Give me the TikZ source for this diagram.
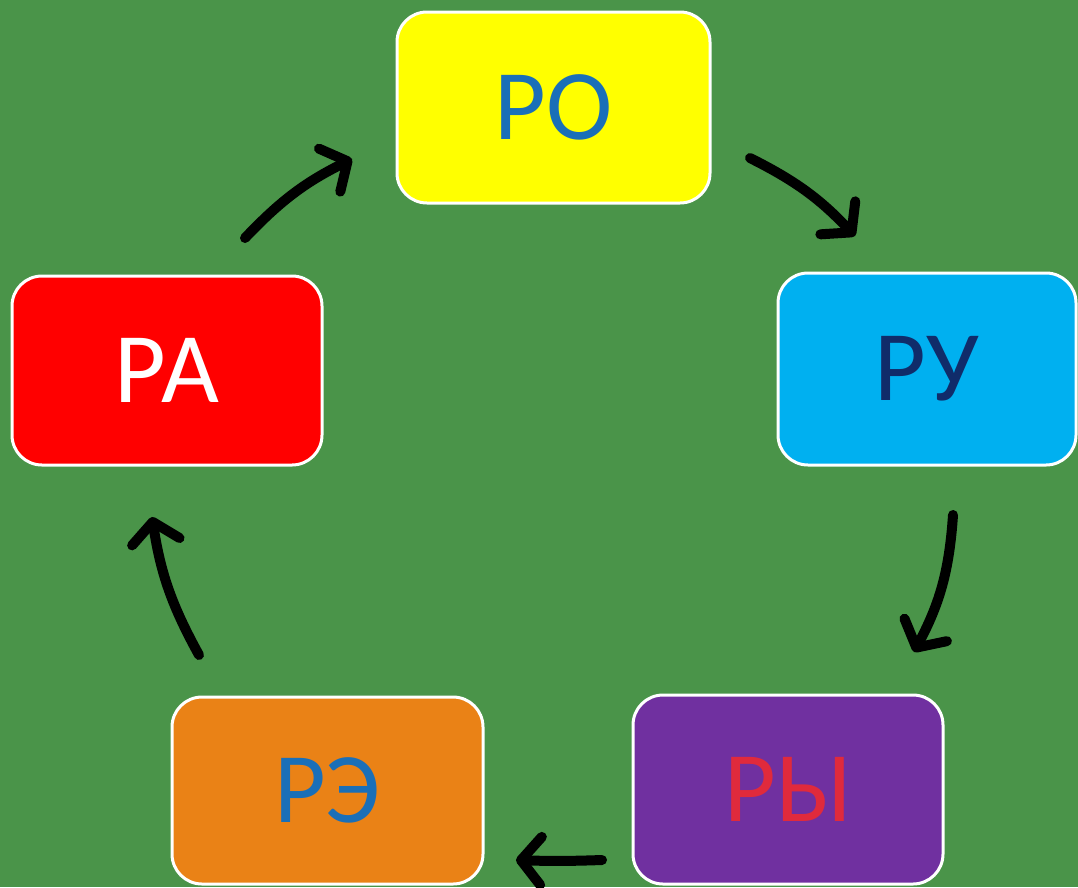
\documentclass[tikz,border=0pt]{standalone}
\usepackage{fontspec}
\setmainfont{Carlito}
\usetikzlibrary{arrows.meta}
\definecolor{bg}{HTML}{4A9449}
\definecolor{cyellow}{HTML}{FFFF00}
\definecolor{ccyan}{HTML}{00B0F0}
\definecolor{cred}{HTML}{FF0000}
\definecolor{corange}{HTML}{EA8216}
\definecolor{cpurple}{HTML}{7030A0}
\definecolor{tblue}{HTML}{1A6FB8}
\definecolor{tnavy}{HTML}{102C6A}
\definecolor{tred}{HTML}{E02A3C}
\tikzset{
  box/.style={draw=white, line width=3pt, rounded corners=30pt, align=center,
    font=\fontsize{100}{110}\selectfont, inner sep=0pt},
  arr/.style={line width=10pt, line cap=round, black,
    -{Straight Barb[length=20pt, width=48pt, line cap=round, line join=round]}},
}
\begin{document}
\begin{tikzpicture}[x=1pt,y=-1pt]
\useasboundingbox[fill=bg] (0,0) rectangle (1078,887);
\node[box, fill=cyellow, text=tblue, minimum width=313pt, minimum height=191pt] (ro) at (553.5,107.5) {РО};
\node[box, fill=ccyan, text=tnavy, minimum width=298pt, minimum height=192pt] (ru) at (927,369) {РУ};
\node[box, fill=cred, text=white, minimum width=310pt, minimum height=189pt] (ra) at (167,370.5) {РА};
\node[box, fill=corange, text=tblue, minimum width=311pt, minimum height=187pt] (re) at (327.5,790.5) {РЭ};
\node[box, fill=cpurple, text=tred, minimum width=310pt, minimum height=189pt] (ry) at (788,789.5) {РЫ};
\coordinate (a1s) at (245,238);
\coordinate (a1e) at (352,159);
\coordinate (a2s) at (750,158);
\coordinate (a2e) at (855,236);
\coordinate (a3s) at (953,515);
\coordinate (a3e) at (914,652);
\coordinate (a4s) at (602,860);
\coordinate (a4e) at (516,860);
\coordinate (a5s) at (199,655);
\coordinate (a5e) at (152,517);
\draw[arr] (a1s) to[bend left=10] (a1e);
\draw[arr] (a2s) to[bend left=10] (a2e);
\draw[arr] (a3s) to[bend left=12] (a3e);
\draw[arr] (a4s) to[bend left=2] (a4e);
\draw[arr] (a5s) to[bend left=10] (a5e);
\end{tikzpicture}
\end{document}
